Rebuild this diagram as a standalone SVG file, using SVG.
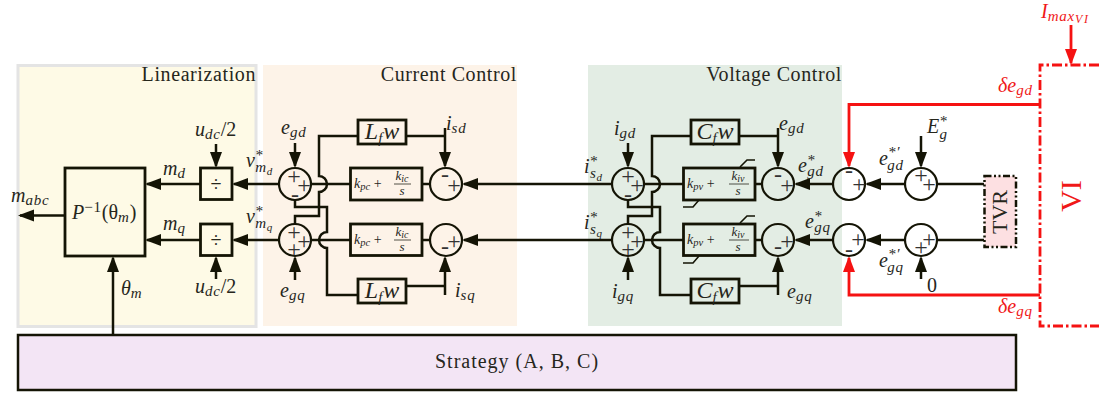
<svg xmlns="http://www.w3.org/2000/svg" width="1099" height="394" viewBox="0 0 1099 394">
<style>
text{font-family:"Liberation Serif","Times New Roman",serif;fill:#26261c}
.t{font-size:20px;text-anchor:end;letter-spacing:.6px}
.m{font-size:20px;font-style:italic}
.s{font-size:15px;font-style:italic;letter-spacing:.8px}
.u{font-style:normal}
.ss{font-size:11px}
.r,.r tspan{fill:#f01818}
.sg{font-size:24px;text-anchor:middle;fill:#333}
.k{font-size:14px;font-style:italic}
.p{font-size:10.500px}
.kk{font-size:13px;font-style:italic;text-anchor:middle}
.kp{font-size:10px}
.big{font-size:24px;text-anchor:middle}
.b{fill:none;stroke:#141405;stroke-width:2.5}
.bx{stroke:#141405;stroke-width:2.8}
.c{fill:none;stroke:#141405;stroke-width:2.2}
.w{fill:none;stroke:#141405;stroke-width:2.5}
.a{marker-end:url(#ah)}
.rw{fill:none;stroke:#f51212;stroke-width:2.8}
.ra{marker-end:url(#rh)}
.thin{fill:none;stroke:#141405;stroke-width:1.6}
.fr{stroke:#26261c;stroke-width:.8}
</style>
<defs>
<marker id="ah" markerUnits="userSpaceOnUse" markerWidth="16" markerHeight="14" refX="14" refY="6.5" orient="auto"><path d="M0 .5L16 6.500L0 12.500Z" fill="#141405"/></marker>
<marker id="rh" markerUnits="userSpaceOnUse" markerWidth="16" markerHeight="14" refX="14" refY="6.5" orient="auto"><path d="M0 .5L16 6.500L0 12.500Z" fill="#f51212"/></marker>
</defs>

<g id="panel-linearization"><rect x="18" y="65.500" width="238" height="261" fill="#fefae6" stroke="#e4e4e4" stroke-width="3"/><text class="t" x="256" y="81">Linearization</text></g>
<g id="panel-current"><rect x="263" y="65" width="254" height="261" fill="#fdf3e8"/><text class="t" x="517" y="81">Current Control</text></g>
<g id="panel-voltage"><rect x="588" y="65" width="254" height="261" fill="#e3ede4"/><text class="t" x="842" y="81">Voltage Control</text></g>

<g id="connectors">
<path class="w a" d="M65 215.500H20"/>
<path class="w a" d="M113 335V258"/>
<path class="w a" d="M200 184H147"/>
<path class="w a" d="M200 240H147"/>
<path class="w a" d="M279 184H234"/>
<path class="w a" d="M279 240H234"/>
<path class="w a" d="M216 144V166"/>
<path class="w a" d="M216 279V258"/>
<path class="w a" d="M295 143V166"/>
<path class="w a" d="M295 280V258"/>
<path class="w" d="M311 184H350M311 240H350M422 184H430M422 240H430"/>
<path class="w" d="M358 136H319V176A8 8 0 0 1 319 192V216H295V224"/>
<path class="w" d="M295 200V207H327V232A8 8 0 0 0 327 248V295H358"/>
<path class="w" d="M406 136H445"/>
<path class="w a" d="M445 128V166"/>
<path class="w" d="M406 286H445"/>
<path class="w a" d="M445 295V258"/>
<path class="w a" d="M612 184H464"/>
<path class="w a" d="M612 240H464"/>
<path class="w a" d="M628 143V166"/>
<path class="w a" d="M628 280V258"/>
<path class="w" d="M644 184H683M644 240H683M755 184H762M755 240H762"/>
<path class="w" d="M691 136H652V176A8 8 0 0 1 652 192V216H628V224"/>
<path class="w" d="M628 200V207H660V232A8 8 0 0 0 660 248V295H691"/>
<path class="w" d="M739 136H778"/>
<path class="w a" d="M778 128V166"/>
<path class="w" d="M739 286H778"/>
<path class="w a" d="M778 295V258"/>
<path class="w a" d="M833 184H796"/>
<path class="w a" d="M833 240H796"/>
<path class="w a" d="M905 184H867"/>
<path class="w a" d="M905 240H867"/>
<path class="w" d="M937 184H984M937 240H984"/>
<path class="w a" d="M921 136V166"/>
<path class="w a" d="M921 279V258"/>
<path class="rw ra" d="M1040 104.500H849V166"/>
<path class="rw ra" d="M1040 295H849V258"/>
<path class="rw ra" d="M1071 25V63"/>
<path class="thin" d="M740 167L747 160H755M699 200L693 207H683M740 223L747 216H755M699 256L693 263H683"/>
</g>

<g id="node-inverse-park"><rect class="bx" x="65" y="168" width="80" height="88" fill="#fefae6"/><text class="m" x="72" y="219">P<tspan class="s u" dy="-7">−1</tspan><tspan class="u" dy="7">(θ</tspan><tspan class="s" dy="3">m</tspan><tspan class="u" dy="-3">)</tspan></text></g>
<g id="node-div-d"><rect class="bx" x="200.500" y="168" width="31.500" height="31.500" fill="#fefae6"/><text x="216" y="191" font-size="20" text-anchor="middle">÷</text></g>
<g id="node-div-q"><rect class="bx" x="200.500" y="224" width="31.500" height="31.500" fill="#fefae6"/><text x="216" y="247" font-size="20" text-anchor="middle">÷</text></g>

<g id="node-sum-c1d"><circle class="c" cx="295" cy="184" r="16"/><text class="sg" x="294" y="184">+</text><text class="sg" x="304" y="193">+</text><text class="sg" x="295" y="202">-</text></g>
<g id="node-sum-c1q"><circle class="c" cx="295" cy="240" r="16"/><text class="sg" x="294" y="240">+</text><text class="sg" x="304" y="249">+</text><text class="sg" x="294" y="257">+</text></g>
<g id="node-sum-c2d"><circle class="c" cx="446" cy="184" r="16"/><text class="sg" x="445" y="182">-</text><text class="sg" x="454" y="193">+</text></g>
<g id="node-sum-c2q"><circle class="c" cx="446" cy="240" r="16"/><text class="sg" x="454" y="249">+</text><text class="sg" x="445" y="254">-</text></g>
<g id="node-sum-v1d"><circle class="c" cx="628" cy="184" r="16"/><text class="sg" x="628" y="184">+</text><text class="sg" x="637" y="193">+</text><text class="sg" x="628" y="202">-</text></g>
<g id="node-sum-v1q"><circle class="c" cx="628" cy="240" r="16"/><text class="sg" x="628" y="240">+</text><text class="sg" x="637" y="249">+</text><text class="sg" x="628" y="257">+</text></g>
<g id="node-sum-v2d"><circle class="c" cx="778" cy="184" r="16"/><text class="sg" x="778" y="182">-</text><text class="sg" x="787" y="193">+</text></g>
<g id="node-sum-v2q"><circle class="c" cx="778" cy="240" r="16"/><text class="sg" x="787" y="249">+</text><text class="sg" x="778" y="254">-</text></g>
<g id="node-sum-r1d"><circle class="c" cx="849" cy="184" r="16"/><text class="sg" x="849" y="178">-</text><text class="sg" x="859" y="192">+</text></g>
<g id="node-sum-r1q"><circle class="c" cx="849" cy="240" r="16"/><text class="sg" x="858" y="247">+</text><text class="sg" x="849" y="257">-</text></g>
<g id="node-sum-r2d"><circle class="c" cx="921" cy="184" r="16"/><text class="sg" x="921" y="183">+</text><text class="sg" x="929" y="192">+</text></g>
<g id="node-sum-r2q"><circle class="c" cx="921" cy="240" r="16"/><text class="sg" x="929" y="247">+</text><text class="sg" x="921" y="255">+</text></g>

<g id="node-lfw-d"><rect class="bx" x="358" y="120" width="48" height="24" fill="#fdf3e8"/><text class="m big" x="382" y="139">L<tspan class="s" dy="4">f</tspan><tspan dy="-4">w</tspan></text></g>
<g id="node-lfw-q"><rect class="bx" x="358" y="279" width="48" height="24" fill="#fdf3e8"/><text class="m big" x="382" y="298">L<tspan class="s" dy="4">f</tspan><tspan dy="-4">w</tspan></text></g>
<g id="node-kpc-d"><rect class="bx" x="350.500" y="168" width="71.500" height="32" fill="#fdf3e8"/><text class="k" x="354" y="188">k<tspan class="p" dy="2">pc</tspan><tspan class="u" dy="-2"> +</tspan></text><text class="kk" x="402" y="180">k<tspan class="kp" dy="2">ic</tspan></text><path class="fr" d="M394 184H411"/><text class="kk" x="402" y="195">s</text></g>
<g id="node-kpc-q"><rect class="bx" x="350.500" y="224" width="71.500" height="31.500" fill="#fdf3e8"/><text class="k" x="354" y="244">k<tspan class="p" dy="2">pc</tspan><tspan class="u" dy="-2"> +</tspan></text><text class="kk" x="402" y="236">k<tspan class="kp" dy="2">ic</tspan></text><path class="fr" d="M394 240H411"/><text class="kk" x="402" y="251">s</text></g>
<g id="node-cfw-d"><rect class="bx" x="691" y="120" width="48" height="24" fill="#e3ede4"/><text class="m big" x="715" y="139">C<tspan class="s" dy="4">f</tspan><tspan dy="-4">w</tspan></text></g>
<g id="node-cfw-q"><rect class="bx" x="691" y="279" width="48" height="24" fill="#e3ede4"/><text class="m big" x="715" y="298">C<tspan class="s" dy="4">f</tspan><tspan dy="-4">w</tspan></text></g>
<g id="node-kpv-d"><rect class="bx" x="683.500" y="168" width="71.500" height="32" fill="#e3ede4"/><text class="k" x="687" y="188">k<tspan class="p" dy="2">pv</tspan><tspan class="u" dy="-2"> +</tspan></text><text class="kk" x="738" y="180">k<tspan class="kp" dy="2">iv</tspan></text><path class="fr" d="M729 184H749"/><text class="kk" x="738" y="195">s</text></g>
<g id="node-kpv-q"><rect class="bx" x="683.500" y="224" width="71.500" height="31.500" fill="#e3ede4"/><text class="k" x="687" y="244">k<tspan class="p" dy="2">pv</tspan><tspan class="u" dy="-2"> +</tspan></text><text class="kk" x="738" y="236">k<tspan class="kp" dy="2">iv</tspan></text><path class="fr" d="M729 240H749"/><text class="kk" x="738" y="251">s</text></g>

<g id="node-tvr"><rect x="984.500" y="176" width="31.500" height="71" fill="#fde0e2" stroke="#141405" stroke-width="2.5" stroke-dasharray="7 2.500 2 2.500 2 2.500"/><text x="1000" y="212" font-size="22" text-anchor="middle" transform="rotate(-90 1000 212) translate(0 7)">TVR</text></g>
<g id="node-vi"><path d="M1099 65H1040V326H1099" fill="none" stroke="#f51212" stroke-width="2.8" stroke-dasharray="10 3 2.500 3"/><text class="r" x="1071" y="196" font-size="30" text-anchor="middle" transform="rotate(-90 1071 196) translate(0 10)">VI</text></g>
<g id="node-strategy"><rect x="18" y="335" width="998" height="55" fill="#f3e5f5" stroke="#141405" stroke-width="2.5"/><text x="517" y="368" font-size="20" letter-spacing="1" text-anchor="middle">Strategy (A, B, C)</text></g>

<g id="labels">
<text class="m" x="11" y="202">m<tspan class="s" dy="3">abc</tspan></text>
<text class="m" x="163" y="175">m<tspan class="s" dy="3">d</tspan></text>
<text class="m" x="163" y="230">m<tspan class="s" dy="3">q</tspan></text>
<text class="m" x="195" y="136">u<tspan class="s" dy="3">dc</tspan><tspan class="u" dy="-3">/2</tspan></text>
<text class="m" x="195" y="293">u<tspan class="s" dy="3">dc</tspan><tspan class="u" dy="-3">/2</tspan></text>
<text class="m" x="246" y="167">v<tspan class="s" dy="-7">*</tspan><tspan class="s" dx="-8" dy="12">m</tspan><tspan class="ss" dy="3">d</tspan></text>
<text class="m" x="246" y="223">v<tspan class="s" dy="-7">*</tspan><tspan class="s" dx="-8" dy="12">m</tspan><tspan class="ss" dy="3">q</tspan></text>
<text class="m" x="121" y="295">θ<tspan class="s" dy="3">m</tspan></text>
<text class="m" x="281" y="134">e<tspan class="s" dy="3">gd</tspan></text>
<text class="m" x="280" y="297">e<tspan class="s" dy="3">gq</tspan></text>
<text class="m" x="446" y="130">i<tspan class="s" dy="3">sd</tspan></text>
<text class="m" x="455" y="297">i<tspan class="s" dy="3">sq</tspan></text>
<text class="m" x="614" y="135">i<tspan class="s" dy="3">gd</tspan></text>
<text class="m" x="612" y="298">i<tspan class="s" dy="3">gq</tspan></text>
<text class="m" x="584" y="173">i<tspan class="s" dy="-7">*</tspan><tspan class="s" dx="-8" dy="12">s</tspan><tspan class="ss" dy="3">d</tspan></text>
<text class="m" x="584" y="229">i<tspan class="s" dy="-7">*</tspan><tspan class="s" dx="-8" dy="12">s</tspan><tspan class="ss" dy="3">q</tspan></text>
<text class="m" x="779" y="130">e<tspan class="s" dy="3">gd</tspan></text>
<text class="m" x="787" y="298">e<tspan class="s" dy="3">gq</tspan></text>
<text class="m" x="798" y="172">e<tspan class="s" dy="-7">*</tspan><tspan class="s" dx="-8" dy="11">gd</tspan></text>
<text class="m" x="805" y="228">e<tspan class="s" dy="-7">*</tspan><tspan class="s" dx="-8" dy="11">gq</tspan></text>
<text class="m" x="879" y="165">e<tspan class="s" dy="-8">*′</tspan><tspan class="s" dx="-13" dy="13">gd</tspan></text>
<text class="m" x="879" y="267">e<tspan class="s" dy="-8">*′</tspan><tspan class="s" dx="-13" dy="13">gq</tspan></text>
<text class="m" x="927" y="133" font-size="22">E<tspan class="s" dy="-7">*</tspan><tspan class="s" dx="-8" dy="13">g</tspan></text>
<text x="927" y="292" font-size="20">0</text>
<text class="m r" x="998" y="92">δe<tspan class="s" dy="3">gd</tspan></text>
<text class="m r" x="998" y="313">δe<tspan class="s" dy="3">gq</tspan></text>
<text class="m r" x="1041" y="18" font-size="21">I<tspan class="s" dy="3" letter-spacing="1.500">max</tspan><tspan font-size="12" letter-spacing="1.500" dy="2">VI</tspan></text>
</g>
</svg>
